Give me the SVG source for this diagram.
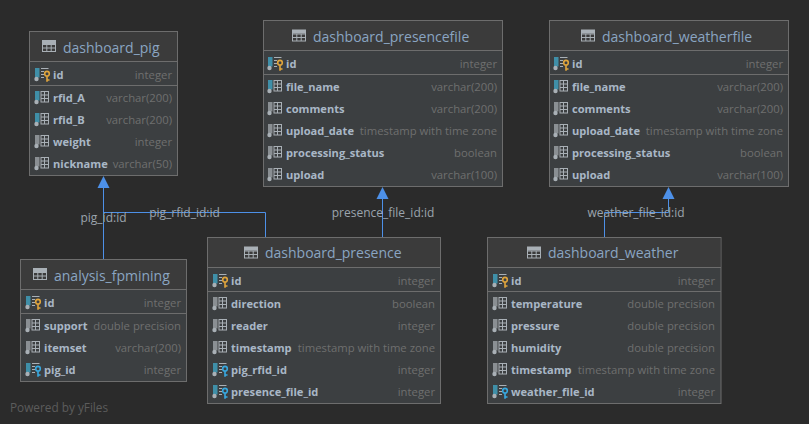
<svg xmlns="http://www.w3.org/2000/svg" width="809" height="424" viewBox="0 0 809 424">
<style>
text{font-family:"Open Sans",sans-serif;font-size:11.1px}
.box{fill:#3c3f41;stroke:#6d6d6d;stroke-width:1}
.head{fill:#3b3b3b}
.sep{stroke:#6d6d6d;stroke-width:1}
.title{font-size:14px;fill:#8aa5c2}
.col{font-weight:bold;fill:#a9b7c6}
.type{fill:#6f6f6f;text-anchor:end;font-size:11.3px}
.lab{fill:#9ba4ad;text-anchor:middle;font-size:12px}
.foot{fill:#5c5c5c;font-size:11.8px}
.conn{fill:none;stroke:#4d90e8;stroke-width:1}
.arrow{fill:#4d90e8}
.grid{fill:none;stroke:#a9b0b6;stroke-width:1}
</style>
<defs>
<g id="tbl"><rect x="0.5" y="0.5" width="13" height="11" class="grid"/><path d="M0.5 4.500H13.500M0.5 8H13.500M4.800 4.500V11.500M9.200 4.500V11.500" class="grid"/><rect x="0.5" y="0.5" width="13" height="3.500" fill="#a9b0b6"/></g>
<g id="cgrid"><rect x="6.500" y="0.500" width="7.500" height="10.500" fill="none" stroke="#a9b0b6"/><path d="M6.500 4H14M6.500 7.500H14M10 0.500V11" stroke="#a9b0b6" fill="none"/></g>
<g id="colN"><rect x="0.500" y="0" width="4.500" height="9.500" fill="#8a8f93"/><circle cx="2" cy="11" r="2.200" fill="#a9b0b6"/><use href="#cgrid"/></g>
<g id="colB"><rect x="0.500" y="0" width="4.500" height="9.500" fill="#3f8fa8"/><circle cx="2" cy="11" r="2.200" fill="#a9b0b6"/><use href="#cgrid"/></g>
<g id="colP"><rect x="0.500" y="0" width="4.500" height="9.500" fill="#3f8fa8"/><circle cx="2" cy="11" r="2.200" fill="#a9b0b6"/><path d="M6.500 0.500H14M6.500 3.500H9.500M6.500 6.500H9.500M6.500 9.500H9.500" stroke="#a9b0b6" fill="none"/><circle cx="12.500" cy="5.700" r="2.300" fill="none" stroke="#e0a53c" stroke-width="1.600"/><path d="M12.500 8V13.700M12.500 12H15" stroke="#e0a53c" stroke-width="1.600" fill="none"/></g>
<g id="colF"><rect x="0.500" y="0" width="4.500" height="9.500" fill="#3f8fa8"/><circle cx="2" cy="11" r="2.200" fill="#a9b0b6"/><path d="M6.500 0.500H14M6.500 3.500H9.500M6.500 6.500H9.500M6.500 9.500H9.500" stroke="#a9b0b6" fill="none"/><circle cx="12.500" cy="5.700" r="2.300" fill="none" stroke="#38a9e0" stroke-width="1.600"/><path d="M12.500 8V13.700M12.500 12H15" stroke="#38a9e0" stroke-width="1.600" fill="none"/></g>
</defs>
<rect width="809" height="424" fill="#2b2b2b"/>

<g id="connectors">
<path class="conn" d="M103.500 260V187"/>
<path class="conn" d="M265.500 238V212.500H103.500"/>
<path class="conn" d="M382.500 238V198"/>
<path class="conn" d="M604.500 238V212.500H668.500V198"/>
<path class="arrow" d="M103.500 176L97.500 188H109.500Z"/>
<path class="arrow" d="M382.500 187L376.500 199H388.500Z"/>
<path class="arrow" d="M668.500 187L662.500 199H674.500Z"/>
<text class="lab" x="103.500" y="222">pig_id:id</text>
<text class="lab" x="184.500" y="217">pig_rfid_id:id</text>
<text class="lab" x="383" y="217">presence_file_id:id</text>
<text class="lab" x="636" y="217">weather_file_id:id</text>
</g>

<g id="dashboard_pig">
<rect class="box" x="29.500" y="31.500" width="148" height="144"/>
<rect class="head" x="30" y="32" width="147" height="29"/>
<path class="sep" d="M30 61.500H177M30 85.500H177"/>
<use href="#tbl" x="42" y="40"/>
<text class="title" x="63" y="53">dashboard_pig</text>
<use href="#colP" x="34.500" y="68"/><text class="col" x="53" y="79">id</text><text class="type" x="172" y="79">integer</text>
<use href="#colB" x="34.500" y="91"/><text class="col" x="53" y="102">rfid_A</text><text class="type" x="172" y="102">varchar(200)</text>
<use href="#colB" x="34.500" y="113"/><text class="col" x="53" y="124">rfid_B</text><text class="type" x="172" y="124">varchar(200)</text>
<use href="#colN" x="34.500" y="135"/><text class="col" x="53" y="146">weight</text><text class="type" x="172" y="146">integer</text>
<use href="#colN" x="34.500" y="157"/><text class="col" x="53" y="168">nickname</text><text class="type" x="172" y="168">varchar(50)</text>
</g>

<g id="dashboard_presencefile">
<rect class="box" x="263.500" y="20.500" width="239" height="166"/>
<rect class="head" x="264" y="21" width="238" height="29"/>
<path class="sep" d="M264 50.500H502M264 74.500H502"/>
<use href="#tbl" x="292" y="29.500"/>
<text class="title" x="313" y="42">dashboard_presencefile</text>
<use href="#colP" x="267.500" y="57"/><text class="col" x="286" y="68">id</text><text class="type" x="497" y="68">integer</text>
<use href="#colB" x="267.500" y="80"/><text class="col" x="286" y="91">file_name</text><text class="type" x="497" y="91">varchar(200)</text>
<use href="#colN" x="267.500" y="102"/><text class="col" x="286" y="113">comments</text><text class="type" x="497" y="113">varchar(200)</text>
<use href="#colN" x="267.500" y="124"/><text class="col" x="286" y="135">upload_date</text><text class="type" x="497" y="135">timestamp with time zone</text>
<use href="#colN" x="267.500" y="146"/><text class="col" x="286" y="157">processing_status</text><text class="type" x="497" y="157">boolean</text>
<use href="#colN" x="267.500" y="168"/><text class="col" x="286" y="179">upload</text><text class="type" x="497" y="179">varchar(100)</text>
</g>

<g id="dashboard_weatherfile">
<rect class="box" x="549.500" y="20.500" width="239" height="166"/>
<rect class="head" x="550" y="21" width="238" height="29"/>
<path class="sep" d="M550 50.500H788M550 74.500H788"/>
<use href="#tbl" x="581" y="29.500"/>
<text class="title" x="602" y="42">dashboard_weatherfile</text>
<use href="#colP" x="553.500" y="57"/><text class="col" x="572" y="68">id</text><text class="type" x="783" y="68">integer</text>
<use href="#colB" x="553.500" y="80"/><text class="col" x="572" y="91">file_name</text><text class="type" x="783" y="91">varchar(200)</text>
<use href="#colN" x="553.500" y="102"/><text class="col" x="572" y="113">comments</text><text class="type" x="783" y="113">varchar(200)</text>
<use href="#colN" x="553.500" y="124"/><text class="col" x="572" y="135">upload_date</text><text class="type" x="783" y="135">timestamp with time zone</text>
<use href="#colN" x="553.500" y="146"/><text class="col" x="572" y="157">processing_status</text><text class="type" x="783" y="157">boolean</text>
<use href="#colN" x="553.500" y="168"/><text class="col" x="572" y="179">upload</text><text class="type" x="783" y="179">varchar(100)</text>
</g>

<g id="analysis_fpmining">
<rect class="box" x="20.500" y="259.500" width="166" height="122"/>
<rect class="head" x="21" y="260" width="165" height="29"/>
<path class="sep" d="M21 289.500H186M21 313.500H186"/>
<use href="#tbl" x="33" y="268"/>
<text class="title" x="54" y="281">analysis_fpmining</text>
<use href="#colP" x="25.500" y="296"/><text class="col" x="44" y="307">id</text><text class="type" x="181" y="307">integer</text>
<use href="#colN" x="25.500" y="319"/><text class="col" x="44" y="330">support</text><text class="type" x="181" y="330">double precision</text>
<use href="#colN" x="25.500" y="341"/><text class="col" x="44" y="352">itemset</text><text class="type" x="181" y="352">varchar(200)</text>
<use href="#colF" x="25.500" y="363"/><text class="col" x="44" y="374">pig_id</text><text class="type" x="181" y="374">integer</text>
</g>

<g id="dashboard_presence">
<rect class="box" x="207.500" y="237.500" width="233" height="166"/>
<rect class="head" x="208" y="238" width="232" height="29"/>
<path class="sep" d="M208 267.500H440M208 291.500H440"/>
<use href="#tbl" x="244" y="246.500"/>
<text class="title" x="265" y="258">dashboard_presence</text>
<use href="#colP" x="212.500" y="274"/><text class="col" x="231" y="285">id</text><text class="type" x="435" y="285">integer</text>
<use href="#colN" x="212.500" y="297"/><text class="col" x="231" y="308">direction</text><text class="type" x="435" y="308">boolean</text>
<use href="#colN" x="212.500" y="319"/><text class="col" x="231" y="330">reader</text><text class="type" x="435" y="330">integer</text>
<use href="#colN" x="212.500" y="341"/><text class="col" x="231" y="352">timestamp</text><text class="type" x="435" y="352">timestamp with time zone</text>
<use href="#colF" x="212.500" y="363"/><text class="col" x="231" y="374">pig_rfid_id</text><text class="type" x="435" y="374">integer</text>
<use href="#colF" x="212.500" y="385"/><text class="col" x="231" y="396">presence_file_id</text><text class="type" x="435" y="396">integer</text>
</g>

<g id="dashboard_weather">
<rect class="box" x="487.500" y="237.500" width="233.500" height="166"/>
<rect class="head" x="488" y="238" width="232.500" height="29"/>
<path class="sep" d="M488 267.500H721M488 291.500H721"/>
<use href="#tbl" x="527" y="246.500"/>
<text class="title" x="548" y="258">dashboard_weather</text>
<use href="#colP" x="492.500" y="274"/><text class="col" x="511" y="285">id</text><text class="type" x="715" y="285">integer</text>
<use href="#colN" x="492.500" y="297"/><text class="col" x="511" y="308">temperature</text><text class="type" x="715" y="308">double precision</text>
<use href="#colN" x="492.500" y="319"/><text class="col" x="511" y="330">pressure</text><text class="type" x="715" y="330">double precision</text>
<use href="#colN" x="492.500" y="341"/><text class="col" x="511" y="352">humidity</text><text class="type" x="715" y="352">double precision</text>
<use href="#colN" x="492.500" y="363"/><text class="col" x="511" y="374">timestamp</text><text class="type" x="715" y="374">timestamp with time zone</text>
<use href="#colF" x="492.500" y="385"/><text class="col" x="511" y="396">weather_file_id</text><text class="type" x="715" y="396">integer</text>
</g>

<text class="foot" x="10" y="412">Powered by yFiles</text>
</svg>
